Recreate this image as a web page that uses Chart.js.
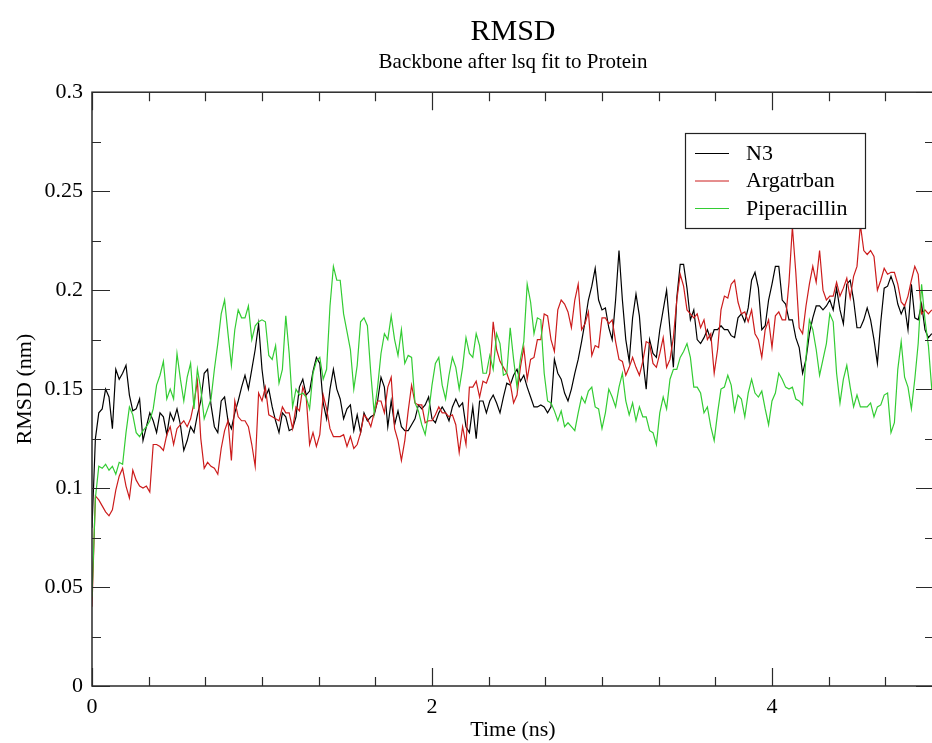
<!DOCTYPE html>
<html>
<head>
<meta charset="utf-8">
<title>RMSD</title>
<script src="https://cdn.jsdelivr.net/npm/chart.js@4.4.1/dist/chart.umd.min.js"></script>
<style>
  html, body { margin: 0; padding: 0; background: #fff; overflow: hidden; }
  canvas { display: block; }
</style>
</head>
<body>
<canvas id="grafico" width="934" height="743"></canvas>
<script>
// Time of each frame (ns)
const timeNs = [
  0,0.02,0.04,0.06,0.08,0.1,0.12,0.14,0.16,0.18,
  0.2,0.22,0.24,0.26,0.28,0.3,0.32,0.34,0.36,0.38,
  0.4,0.42,0.44,0.46,0.48,0.5,0.52,0.54,0.56,0.58,
  0.6,0.62,0.64,0.66,0.68,0.7,0.72,0.74,0.76,0.78,
  0.8,0.82,0.84,0.86,0.88,0.9,0.92,0.94,0.96,0.98,
  1,1.02,1.04,1.06,1.08,1.1,1.12,1.14,1.16,1.18,
  1.2,1.22,1.24,1.26,1.28,1.3,1.32,1.34,1.36,1.38,
  1.4,1.42,1.44,1.46,1.48,1.5,1.52,1.54,1.56,1.58,
  1.6,1.62,1.64,1.66,1.68,1.7,1.72,1.74,1.76,1.78,
  1.8,1.82,1.84,1.86,1.88,1.9,1.92,1.94,1.96,1.98,
  2,2.02,2.04,2.06,2.08,2.1,2.12,2.14,2.16,2.18,
  2.2,2.22,2.24,2.26,2.28,2.3,2.32,2.34,2.36,2.38,
  2.4,2.42,2.44,2.46,2.48,2.5,2.52,2.54,2.56,2.58,
  2.6,2.62,2.64,2.66,2.68,2.7,2.72,2.74,2.76,2.78,
  2.8,2.82,2.84,2.86,2.88,2.9,2.92,2.94,2.96,2.98,
  3,3.02,3.04,3.06,3.08,3.1,3.12,3.14,3.16,3.18,
  3.2,3.22,3.24,3.26,3.28,3.3,3.32,3.34,3.36,3.38,
  3.4,3.42,3.44,3.46,3.48,3.5,3.52,3.54,3.56,3.58,
  3.6,3.62,3.64,3.66,3.68,3.7,3.72,3.74,3.76,3.78,
  3.8,3.82,3.84,3.86,3.88,3.9,3.92,3.94,3.96,3.98,
  4,4.02,4.04,4.06,4.08,4.1,4.12,4.14,4.16,4.18,
  4.2,4.22,4.24,4.26,4.28,4.3,4.32,4.34,4.36,4.38,
  4.4,4.42,4.44,4.46,4.48,4.5,4.52,4.54,4.56,4.58,
  4.6,4.62,4.64,4.66,4.68,4.7,4.72,4.74,4.76,4.78,
  4.8,4.82,4.84,4.86,4.88,4.9,4.92,4.94
];

// RMSD (nm) of each ligand complex
const n3 = [
  0.080,0.125,0.138,0.140,0.150,0.146,0.130,0.160,0.155,0.158,
  0.162,0.147,0.139,0.140,0.145,0.124,0.131,0.138,0.134,0.128,
  0.138,0.136,0.127,0.138,0.134,0.140,0.132,0.119,0.124,0.131,
  0.128,0.137,0.144,0.158,0.160,0.142,0.131,0.128,0.144,0.146,
  0.134,0.130,0.138,0.144,0.151,0.157,0.150,0.160,0.170,0.183,
  0.160,0.146,0.150,0.141,0.134,0.128,0.138,0.136,0.129,0.130,
  0.136,0.151,0.155,0.147,0.149,0.159,0.166,0.163,0.143,0.135,
  0.150,0.160,0.150,0.145,0.135,0.140,0.142,0.129,0.137,0.128,
  0.138,0.134,0.136,0.137,0.144,0.156,0.151,0.131,0.144,0.132,
  0.139,0.131,0.129,0.129,0.132,0.135,0.142,0.140,0.142,0.146,
  0.135,0.133,0.138,0.141,0.138,0.134,0.141,0.145,0.141,0.143,
  0.131,0.128,0.141,0.125,0.144,0.144,0.138,0.144,0.147,0.143,
  0.138,0.146,0.153,0.152,0.157,0.160,0.154,0.157,0.151,0.146,
  0.141,0.141,0.142,0.141,0.138,0.141,0.165,0.158,0.155,0.148,
  0.144,0.150,0.158,0.165,0.174,0.184,0.195,0.202,0.211,0.195,
  0.190,0.191,0.181,0.175,0.195,0.220,0.195,0.175,0.164,0.186,
  0.198,0.187,0.165,0.150,0.175,0.168,0.166,0.180,0.190,0.200,
  0.180,0.161,0.196,0.213,0.213,0.201,0.185,0.190,0.175,0.173,
  0.176,0.180,0.175,0.180,0.180,0.182,0.180,0.180,0.177,0.176,
  0.186,0.188,0.184,0.191,0.205,0.209,0.201,0.180,0.182,0.195,
  0.203,0.212,0.212,0.195,0.193,0.185,0.185,0.176,0.171,0.158,
  0.165,0.178,0.186,0.192,0.192,0.190,0.192,0.195,0.190,0.201,
  0.190,0.183,0.203,0.205,0.195,0.181,0.181,0.185,0.191,0.185,
  0.175,0.163,0.184,0.201,0.202,0.207,0.202,0.193,0.188,0.192,
  0.180,0.203,0.186,0.185,0.193,0.180,0.176,0.178
];

const argatrban = [
  0.040,0.096,0.094,0.091,0.088,0.086,0.089,0.099,0.106,0.110,
  0.101,0.095,0.109,0.104,0.101,0.100,0.101,0.098,0.122,0.122,
  0.121,0.119,0.127,0.131,0.122,0.130,0.132,0.134,0.131,0.135,
  0.143,0.154,0.125,0.110,0.113,0.111,0.110,0.107,0.120,0.129,
  0.134,0.114,0.144,0.136,0.134,0.134,0.131,0.122,0.111,0.148,
  0.144,0.151,0.137,0.136,0.135,0.134,0.141,0.138,0.138,0.130,
  0.141,0.139,0.151,0.146,0.122,0.128,0.121,0.127,0.147,0.140,
  0.130,0.126,0.126,0.126,0.127,0.121,0.126,0.120,0.122,0.128,
  0.137,0.135,0.131,0.138,0.144,0.144,0.138,0.151,0.156,0.130,
  0.124,0.114,0.124,0.139,0.152,0.143,0.142,0.142,0.133,0.134,
  0.134,0.137,0.141,0.138,0.138,0.136,0.137,0.132,0.118,0.131,
  0.122,0.151,0.151,0.154,0.146,0.154,0.153,0.158,0.184,0.170,
  0.164,0.161,0.158,0.153,0.143,0.147,0.161,0.171,0.155,0.165,
  0.166,0.175,0.175,0.188,0.187,0.175,0.169,0.190,0.195,0.193,
  0.189,0.181,0.195,0.203,0.180,0.183,0.189,0.167,0.172,0.171,
  0.186,0.186,0.183,0.185,0.174,0.165,0.164,0.157,0.161,0.166,
  0.161,0.157,0.164,0.174,0.173,0.163,0.161,0.168,0.176,0.161,
  0.165,0.176,0.195,0.208,0.202,0.190,0.188,0.186,0.188,0.181,
  0.185,0.175,0.178,0.158,0.170,0.190,0.197,0.196,0.203,0.205,
  0.194,0.188,0.189,0.184,0.190,0.178,0.175,0.166,0.180,0.185,
  0.171,0.187,0.189,0.185,0.185,0.204,0.232,0.209,0.181,0.178,
  0.192,0.203,0.212,0.204,0.220,0.200,0.195,0.197,0.197,0.204,
  0.197,0.201,0.206,0.196,0.207,0.212,0.233,0.220,0.218,0.220,
  0.217,0.200,0.205,0.211,0.208,0.209,0.209,0.203,0.194,0.192,
  0.197,0.205,0.212,0.208,0.188,0.190,0.188,0.190
];

const piperacillin = [
  0.045,0.095,0.111,0.110,0.112,0.109,0.111,0.107,0.113,0.112,
  0.128,0.141,0.137,0.128,0.126,0.129,0.131,0.134,0.140,0.152,
  0.157,0.164,0.145,0.150,0.145,0.168,0.155,0.144,0.156,0.163,
  0.140,0.160,0.150,0.135,0.140,0.145,0.160,0.173,0.188,0.195,
  0.178,0.162,0.180,0.190,0.186,0.186,0.192,0.175,0.182,0.184,
  0.185,0.184,0.167,0.165,0.172,0.153,0.160,0.187,0.168,0.141,
  0.150,0.147,0.148,0.146,0.140,0.158,0.164,0.166,0.155,0.160,
  0.192,0.212,0.205,0.205,0.188,0.179,0.170,0.150,0.162,0.184,
  0.186,0.182,0.158,0.138,0.151,0.168,0.178,0.175,0.187,0.175,
  0.167,0.180,0.163,0.167,0.166,0.143,0.139,0.132,0.127,0.138,
  0.152,0.163,0.166,0.152,0.145,0.157,0.166,0.161,0.150,0.161,
  0.176,0.168,0.166,0.178,0.172,0.158,0.158,0.167,0.160,0.178,
  0.173,0.157,0.158,0.181,0.165,0.151,0.165,0.174,0.203,0.194,
  0.178,0.186,0.185,0.158,0.144,0.143,0.139,0.134,0.139,0.131,
  0.133,0.131,0.129,0.138,0.146,0.143,0.149,0.151,0.141,0.140,
  0.130,0.138,0.150,0.146,0.141,0.151,0.158,0.144,0.137,0.143,
  0.134,0.141,0.136,0.136,0.129,0.128,0.122,0.138,0.146,0.140,
  0.155,0.160,0.160,0.166,0.169,0.173,0.166,0.151,0.151,0.148,
  0.138,0.141,0.131,0.124,0.138,0.150,0.151,0.157,0.152,0.139,
  0.147,0.145,0.136,0.148,0.155,0.148,0.146,0.149,0.140,0.132,
  0.144,0.148,0.158,0.155,0.151,0.150,0.151,0.145,0.144,0.142,
  0.166,0.185,0.180,0.170,0.157,0.165,0.173,0.188,0.184,0.158,
  0.143,0.155,0.162,0.151,0.141,0.147,0.141,0.141,0.141,0.143,
  0.136,0.141,0.142,0.147,0.148,0.128,0.133,0.160,0.174,0.156,
  0.151,0.140,0.155,0.173,0.203,0.185,0.172,0.150
];

const seriesNames = ['N3', 'Argatrban', 'Piperacillin'];
const seriesColors = ['#000000', '#cc1c1c', '#33cc33'];

// Axis ticks
const yTicks = [0, 0.05, 0.1, 0.15, 0.2, 0.25, 0.3];
const yTickLabels = ['0', '0.05', '0.1', '0.15', '0.2', '0.25', '0.3'];
const yMinorTicks = [0.025, 0.075, 0.125, 0.175, 0.225, 0.275];
const xTicks = [0, 2, 4];
const xTickLabels = ['0', '2', '4'];
const xMinorTicks = [0.333, 0.667, 1, 1.333, 1.667, 2.333, 2.667, 3, 3.333, 3.667, 4.333, 4.667];

const serif = "'Liberation Serif', 'Times New Roman', serif";
Chart.defaults.font.family = serif;
Chart.defaults.color = '#000';

// Frame with inward ticks on all four sides (xmgrace style)
const moldura = {
  id: 'moldura',
  afterDatasetsDraw(chart) {
    const { ctx, chartArea: a, scales: { x, y } } = chart;
    ctx.save();
    ctx.strokeStyle = '#2a2a2a';
    ctx.lineWidth = 1.5;
    ctx.strokeRect(a.left, a.top, a.right - a.left, a.bottom - a.top);
    ctx.lineWidth = 1.2;
    ctx.beginPath();
    const marcaX = (v, len) => {
      const px = Math.round(x.getPixelForValue(v)) + 0.5;
      ctx.moveTo(px, a.bottom); ctx.lineTo(px, a.bottom - len);
      ctx.moveTo(px, a.top); ctx.lineTo(px, a.top + len);
    };
    const marcaY = (v, len) => {
      const py = Math.round(y.getPixelForValue(v)) + 0.5;
      ctx.moveTo(a.left, py); ctx.lineTo(a.left + len, py);
      ctx.moveTo(a.right, py); ctx.lineTo(a.right - len, py);
    };
    xTicks.forEach(v => marcaX(v, 18));
    xMinorTicks.forEach(v => marcaX(v, 9));
    yTicks.forEach(v => marcaY(v, 18));
    yMinorTicks.forEach(v => marcaY(v, 9));
    ctx.stroke();
    ctx.restore();
  }
};

// Boxed legend inside the plot, top right
const legenda = {
  id: 'legenda',
  afterDatasetsDraw(chart) {
    const { ctx } = chart;
    const box = { x: 685.5, y: 133.5, w: 180, h: 95 };
    ctx.save();
    ctx.fillStyle = '#fff';
    ctx.fillRect(box.x, box.y, box.w, box.h);
    ctx.strokeStyle = '#222';
    ctx.lineWidth = 1.2;
    ctx.strokeRect(box.x, box.y, box.w, box.h);
    ctx.font = '22px ' + serif;
    ctx.textBaseline = 'middle';
    ctx.fillStyle = '#000';
    seriesNames.forEach((nome, i) => {
      const yy = 153 + i * 27.5;
      ctx.strokeStyle = seriesColors[i];
      ctx.lineWidth = 1;
      ctx.beginPath();
      ctx.moveTo(695, yy + 0.5);
      ctx.lineTo(729, yy + 0.5);
      ctx.stroke();
      ctx.fillText(nome, 746, yy + 1);
    });
    ctx.restore();
  }
};

const series = [n3, argatrban, piperacillin];
const datasets = series.map((valores, i) => ({
  label: seriesNames[i],
  data: valores.map((v, j) => ({ x: timeNs[j], y: v })),
  borderColor: seriesColors[i],
  borderWidth: 1.2,
  pointRadius: 0,
  tension: 0,
  fill: false,
  order: 2 - i
}));

new Chart(document.getElementById('grafico'), {
  type: 'line',
  data: { datasets },
  options: {
    responsive: false,
    animation: false,
    events: [],
    layout: { padding: 0 },
    plugins: {
      legend: { display: false },
      tooltip: { enabled: false },
      title: {
        display: true,
        text: 'RMSD',
        fullSize: false,
        font: { size: 30, weight: 'normal' },
        padding: { top: 14, bottom: 0 }
      },
      subtitle: {
        display: true,
        text: 'Backbone after lsq fit to Protein',
        fullSize: false,
        font: { size: 21, weight: 'normal' },
        padding: { top: 0, bottom: 17 }
      }
    },
    scales: {
      x: {
        type: 'linear',
        min: 0,
        max: 4.953,
        grid: { display: false, drawTicks: false },
        border: { display: false },
        afterFit: s => { s.height = 57; },
        afterBuildTicks: s => { s.ticks = xTicks.map(v => ({ value: v })); },
        ticks: {
          padding: 8,
          maxRotation: 0,
          font: { size: 22 },
          callback: (v, i) => xTickLabels[i]
        },
        title: {
          display: true,
          text: 'Time (ns)',
          font: { size: 22 },
          padding: { top: 0, bottom: 0 }
        }
      },
      y: {
        min: 0,
        max: 0.3,
        grid: { display: false, drawTicks: false },
        border: { display: false },
        afterFit: s => { s.width = 92; },
        afterBuildTicks: s => { s.ticks = yTicks.map(v => ({ value: v })); },
        ticks: {
          padding: 9,
          font: { size: 22 },
          callback: (v, i) => yTickLabels[i]
        },
        title: {
          display: true,
          text: 'RMSD (nm)',
          font: { size: 22 },
          padding: { top: 12, bottom: 0 }
        }
      }
    }
  },
  plugins: [moldura, legenda]
});
</script>
</body>
</html>
